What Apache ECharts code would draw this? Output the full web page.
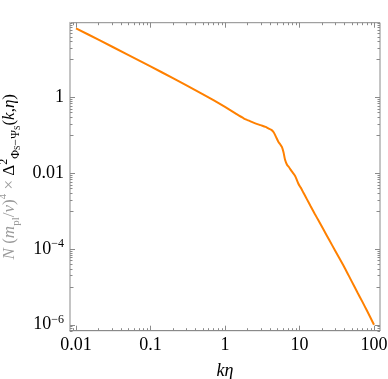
<!DOCTYPE html>
<html><head><meta charset="utf-8">
<script src="https://cdn.jsdelivr.net/npm/echarts@6/dist/echarts.min.js"></script>
<style>html,body{margin:0;padding:0;background:#fff}#c{width:388px;height:379px}</style>
</head><body><div id="c"></div>
<script>
// k*eta values
const kEta = [0.01, 0.02, 0.05, 0.1, 0.2, 0.3, 0.5, 0.7, 1, 1.43, 1.8, 2, 2.2, 2.5, 3, 3.5, 3.81, 4.2, 4.5, 4.8, 5.2, 5.5, 5.8, 6.1, 6.4, 6.8, 7.2, 7.6, 8.2, 8.7, 9.2, 9.6, 10.1, 10.6, 11.3, 12.5, 14, 16, 18, 21, 25, 30, 40, 50, 60, 70, 80, 100];
// N (m_pl/v)^4 x Delta^2
const spectrum = [66, 33.1, 13.2, 6.53, 3.20, 2.09, 1.216, 0.841, 0.556, 0.359, 0.275, 0.251, 0.232, 0.209, 0.184, 0.166, 0.152, 0.138, 0.120, 0.0933, 0.0676, 0.0575, 0.049, 0.0355, 0.0224, 0.0166, 0.0145, 0.0123, 0.0100, 0.0085, 0.0066, 0.0054, 0.00447, 0.00389, 0.00302, 0.00209, 0.00138, 8.5e-4, 5.6e-4, 3.24e-4, 1.74e-4, 9.1e-5, 3.3e-5, 1.41e-5, 7.1e-6, 4.0e-6, 2.4e-6, 1.0e-6];

const xTickValues = [0.01, 0.1, 1, 10, 100];
const xTickLabels = ['0.01', '0.1', '1', '10', '100'];
const yTickValues = [1e-6, 1e-4, 0.01, 1];
const yTickLabels = ['{b|10}{s|−6}', '{b|10}{s|−4}', '0.01', '1'];
const xMinorMultipliers = [2, 3, 4, 5, 6, 7, 8, 9];
const yMinorMultipliers = [1, 2, 3, 4, 5, 6, 7, 8, 9];
const xDecades = [-3, -2, -1, 0, 1, 2];
const yMinorDecades = [-7, -5, -3, -1, 1];

const xMin = 0.008307, xMax = 120.4, yMin = 6.95e-7, yMax = 92.9;
const FONT = "'Liberation Serif','Times New Roman',serif";
const AX = '#8a8a8a';

function labelFor(v, vals, labels) {
  for (let i = 0; i < vals.length; i++) if (Math.abs(v / vals[i] - 1) < 1e-6) return labels[i];
  return '';
}

// tick marks (value, orientation, length)
const ticks = [];
xTickValues.forEach(v => ticks.push([v, yMin, 0, 5]));
xDecades.forEach(d => xMinorMultipliers.forEach(m => {
  const v = m * Math.pow(10, d);
  if (v > xMin && v < xMax) ticks.push([v, yMin, 0, 2.5]);
}));
yTickValues.forEach(v => ticks.push([xMin, v, 1, 5]));
yMinorDecades.forEach(d => yMinorMultipliers.forEach(m => {
  const v = m * Math.pow(10, d);
  if (v > yMin && v < yMax) ticks.push([xMin, v, 1, m === 1 ? 3.5 : 2.5]);
}));

const chart = echarts.init(document.getElementById('c'), null, {renderer: 'canvas'});
const g = '#9a9a9a';
chart.setOption({
  animation: false,
  grid: {left: 70, top: 22.7, right: 8, bottom: 48.3, show: true, borderColor: AX, borderWidth: 1,
    containLabel: false, outerBoundsMode: 'none'},
  xAxis: {
    type: 'log', min: xMin, max: xMax,
    name: 'kη', nameLocation: 'middle', nameGap: 32,
    nameTextStyle: {fontFamily: FONT, fontSize: 18, fontStyle: 'italic', color: '#000'},
    axisLine: {lineStyle: {color: AX, width: 1}},
    axisTick: {show: false}, splitLine: {show: false}, minorTick: {show: false},
    axisLabel: {fontFamily: FONT, fontSize: 18, color: '#000', margin: 6,
      formatter: v => labelFor(v, xTickValues, xTickLabels)}
  },
  yAxis: {
    type: 'log', logBase: 100, min: yMin, max: yMax,
    name: '{gi|N}{g| (}{gi|m}{gsub|pl}{g|/}{gi|v}{g|)}{gsup|4}{g| × }{k|Δ}{ksup|2}{ksub|Φ}{kss|S}{ksub|−Ψ}{kss|S}{k|(}{ki|k}{k|,}{ki|η}{k|)}',
    nameLocation: 'middle', nameRotate: 90, nameGap: 34,
    nameTextStyle: {
      fontFamily: FONT, fontSize: 17,
      rich: {
        g: {fontFamily: FONT, fontSize: 17, color: g, lineHeight: 24},
        gi: {fontFamily: FONT, fontSize: 17, color: g, fontStyle: 'italic', lineHeight: 24},
        gsub: {fontFamily: FONT, fontSize: 11, color: g, verticalAlign: 'bottom', lineHeight: 14},
        gsup: {fontFamily: FONT, fontSize: 11, color: g, verticalAlign: 'top', lineHeight: 14},
        k: {fontFamily: FONT, fontSize: 17, color: '#000', lineHeight: 24},
        ki: {fontFamily: FONT, fontSize: 17, color: '#000', fontStyle: 'italic', lineHeight: 24},
        ksup: {fontFamily: FONT, fontSize: 12, color: '#000', verticalAlign: 'top', lineHeight: 14},
        ksub: {fontFamily: FONT, fontSize: 12, color: '#000', verticalAlign: 'bottom', lineHeight: 14},
        kss: {fontFamily: FONT, fontSize: 8, color: '#000', verticalAlign: 'bottom', lineHeight: 11}
      }
    },
    axisLine: {lineStyle: {color: '#c4c4c4', width: 2}},
    axisTick: {show: false}, splitLine: {show: false}, minorTick: {show: false},
    axisLabel: {fontFamily: FONT, fontSize: 18, color: '#000', margin: 6,
      formatter: v => labelFor(v, yTickValues, yTickLabels),
      rich: {
        b: {fontFamily: FONT, fontSize: 18, color: '#000', lineHeight: 22},
        s: {fontFamily: FONT, fontSize: 12, color: '#000', verticalAlign: 'top', lineHeight: 14}
      }}
  },
  series: [
    {
      type: 'line', data: kEta.map((x, i) => [x, spectrum[i]]),
      showSymbol: false, smooth: 0.3,
      lineStyle: {color: '#ff8000', width: 2}, z: 3
    },
    {
      type: 'custom', data: ticks, silent: true, z: 4, clip: false,
      encode: {x: 0, y: 1},
      renderItem: function (params, api) {
        const kind = api.value(2), len = api.value(3);
        const st = {stroke: AX, lineWidth: 1};
        if (kind === 0) {
          const b = api.coord([api.value(0), yMin]);
          const t = api.coord([api.value(0), yMax]);
          const x = Math.round(b[0]) + 0.5;
          return {type: 'group', children: [
            {type: 'line', shape: {x1: x, y1: b[1], x2: x, y2: b[1] - len}, style: st},
            {type: 'line', shape: {x1: x, y1: t[1], x2: x, y2: t[1] + len}, style: st}
          ]};
        } else {
          const l = api.coord([xMin, api.value(1)]);
          const r = api.coord([xMax, api.value(1)]);
          const y = Math.round(l[1]) + 0.5;
          return {type: 'group', children: [
            {type: 'line', shape: {x1: l[0], y1: y, x2: l[0] + len, y2: y}, style: st},
            {type: 'line', shape: {x1: r[0], y1: y, x2: r[0] - len, y2: y}, style: st}
          ]};
        }
      }
    }
  ]
});
</script></body></html>
